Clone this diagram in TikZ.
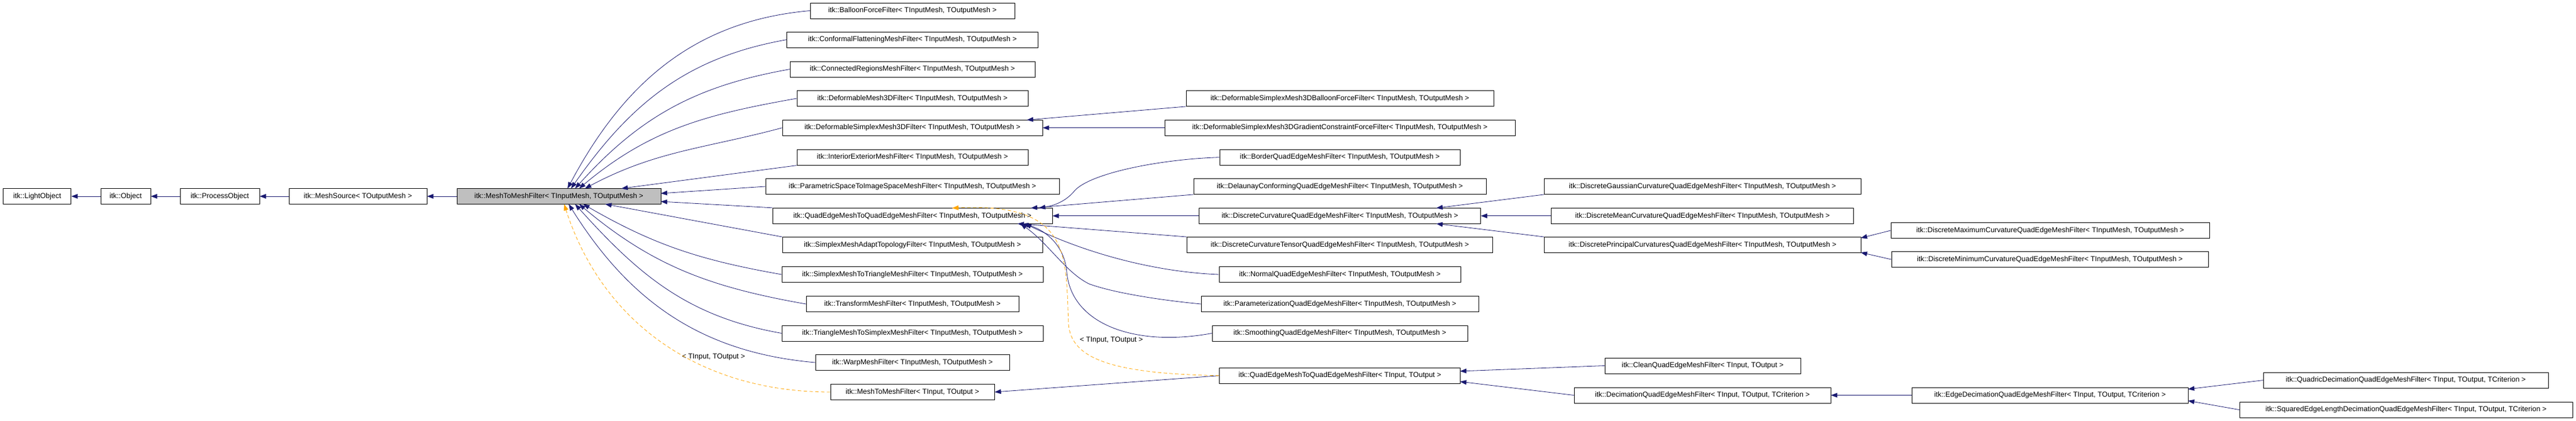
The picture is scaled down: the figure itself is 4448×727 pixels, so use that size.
\documentclass[tikz,border=0pt]{standalone}
\usepackage{fontspec}
\setmainfont{Liberation Sans}
\usetikzlibrary{arrows.meta}
\definecolor{eb}{HTML}{191970}
\definecolor{og}{HTML}{FFA500}
\tikzset{
 box/.style={draw=black,fill=white,rectangle,minimum height=27pt,inner sep=0pt,line width=0.9pt,font=\fontsize{12.5}{14}\selectfont},
 e/.style={draw=eb,line width=0.8pt,-{Triangle[length=11pt,width=8pt]},fill=none},
 d/.style={draw=og,line width=0.8pt,dash pattern=on 6pt off 4pt,-{Triangle[length=11pt,width=8pt]}},
 lbl/.style={font=\fontsize{12.5}{14}\selectfont,inner sep=1pt}
}
\begin{document}
\begin{tikzpicture}[x=1pt,y=1pt]
\useasboundingbox (0,0) rectangle (4448,-727);
% column 0
\node[box,minimum width=117pt] (lo) at (64.2,-339) {itk::LightObject};
\node[box,minimum width=86pt] (ob) at (217,-339) {itk::Object};
\node[box,minimum width=137pt] (po) at (379.5,-339) {itk::ProcessObject};
\node[box,minimum width=238pt] (ms) at (618,-339) {itk::MeshSource< TOutputMesh >};
\node[box,minimum width=352pt,fill=black!25] (main) at (965,-339) {itk::MeshToMeshFilter< TInputMesh, TOutputMesh >};
% column 2
\node[box,minimum width=353pt] (balloon) at (1575.5,-18.5) {itk::BalloonForceFilter< TInputMesh, TOutputMesh >};
\node[box,minimum width=434pt] (conf) at (1575.5,-68.6) {itk::ConformalFlatteningMeshFilter< TInputMesh, TOutputMesh >};
\node[box,minimum width=423pt] (conn) at (1575.5,-119.6) {itk::ConnectedRegionsMeshFilter< TInputMesh, TOutputMesh >};
\node[box,minimum width=399pt] (dm3d) at (1575.5,-170) {itk::DeformableMesh3DFilter< TInputMesh, TOutputMesh >};
\node[box,minimum width=449pt] (dsm) at (1575.5,-220.7) {itk::DeformableSimplexMesh3DFilter< TInputMesh, TOutputMesh >};
\node[box,minimum width=399pt] (ie) at (1575.5,-271.7) {itk::InteriorExteriorMeshFilter< TInputMesh, TOutputMesh >};
\node[box,minimum width=507pt] (param) at (1575.5,-322) {itk::ParametricSpaceToImageSpaceMeshFilter< TInputMesh, TOutputMesh >};
\node[box,minimum width=483pt] (qe) at (1575.5,-372.8) {itk::QuadEdgeMeshToQuadEdgeMeshFilter< TInputMesh, TOutputMesh >};
\node[box,minimum width=449pt] (sma) at (1575.5,-423) {itk::SimplexMeshAdaptTopologyFilter< TInputMesh, TOutputMesh >};
\node[box,minimum width=451pt] (smt) at (1575.5,-474) {itk::SimplexMeshToTriangleMeshFilter< TInputMesh, TOutputMesh >};
\node[box,minimum width=367pt] (tr) at (1575.5,-525) {itk::TransformMeshFilter< TInputMesh, TOutputMesh >};
\node[box,minimum width=451pt] (tts) at (1575.5,-575.5) {itk::TriangleMeshToSimplexMeshFilter< TInputMesh, TOutputMesh >};
\node[box,minimum width=335pt] (warp) at (1575.5,-626) {itk::WarpMeshFilter< TInputMesh, TOutputMesh >};
\node[box,minimum width=283pt] (m2m) at (1575.5,-677) {itk::MeshToMeshFilter< TInput, TOutput >};
% column 3
\node[box,minimum width=531pt] (dsmb) at (2313.5,-170) {itk::DeformableSimplexMesh3DBalloonForceFilter< TInputMesh, TOutputMesh >};
\node[box,minimum width=605pt] (dsmg) at (2313.5,-220.7) {itk::DeformableSimplexMesh3DGradientConstraintForceFilter< TInputMesh, TOutputMesh >};
\node[box,minimum width=415pt] (border) at (2313.5,-271.7) {itk::BorderQuadEdgeMeshFilter< TInputMesh, TOutputMesh >};
\node[box,minimum width=505pt] (delaunay) at (2313.5,-322) {itk::DelaunayConformingQuadEdgeMeshFilter< TInputMesh, TOutputMesh >};
\node[box,minimum width=486pt] (dc) at (2313.5,-372.8) {itk::DiscreteCurvatureQuadEdgeMeshFilter< TInputMesh, TOutputMesh >};
\node[box,minimum width=528pt] (dct) at (2313.5,-423) {itk::DiscreteCurvatureTensorQuadEdgeMeshFilter< TInputMesh, TOutputMesh >};
\node[box,minimum width=417pt] (normal) at (2313.5,-474) {itk::NormalQuadEdgeMeshFilter< TInputMesh, TOutputMesh >};
\node[box,minimum width=479pt] (paramq) at (2313.5,-525) {itk::ParameterizationQuadEdgeMeshFilter< TInputMesh, TOutputMesh >};
\node[box,minimum width=441pt] (smooth) at (2313.5,-575.5) {itk::SmoothingQuadEdgeMeshFilter< TInputMesh, TOutputMesh >};
\node[box,minimum width=416pt] (qet) at (2313.5,-648.7) {itk::QuadEdgeMeshToQuadEdgeMeshFilter< TInput, TOutput >};
% column 4
\node[box,minimum width=546.5pt] (gauss) at (2939.7,-322) {itk::DiscreteGaussianCurvatureQuadEdgeMeshFilter< TInputMesh, TOutputMesh >};
\node[box,minimum width=522pt] (mean) at (2939.7,-372.8) {itk::DiscreteMeanCurvatureQuadEdgeMeshFilter< TInputMesh, TOutputMesh >};
\node[box,minimum width=546.5pt] (princ) at (2939.7,-423) {itk::DiscretePrincipalCurvaturesQuadEdgeMeshFilter< TInputMesh, TOutputMesh >};
\node[box,minimum width=338pt] (clean) at (2940,-631.5) {itk::CleanQuadEdgeMeshFilter< TInput, TOutput >};
\node[box,minimum width=443pt] (dec) at (2939.5,-682.5) {itk::DecimationQuadEdgeMeshFilter< TInput, TOutput, TCriterion >};
% column 5
\node[box,minimum width=550pt] (max) at (3540,-398) {itk::DiscreteMaximumCurvatureQuadEdgeMeshFilter< TInputMesh, TOutputMesh >};
\node[box,minimum width=547pt] (min) at (3539.5,-448) {itk::DiscreteMinimumCurvatureQuadEdgeMeshFilter< TInputMesh, TOutputMesh >};
\node[box,minimum width=476.5pt] (edge) at (3539.7,-682.5) {itk::EdgeDecimationQuadEdgeMeshFilter< TInput, TOutput, TCriterion >};
% column 6
\node[box,minimum width=492pt] (quadric) at (4154,-656.6) {itk::QuadricDecimationQuadEdgeMeshFilter< TInput, TOutput, TCriterion >};
\node[box,minimum width=575pt] (squared) at (4154.5,-707.6) {itk::SquaredEdgeLengthDecimationQuadEdgeMeshFilter< TInput, TOutput, TCriterion >};
% labels
\node[lbl] (lab1) at (1232,-616) {< TInput, TOutput >};
\node[lbl] (lab2) at (1919,-587) {< TInput, TOutput >};
% chain
\draw[e] (ob) -- (lo);
\draw[e] (po) -- (ob);
\draw[e] (ms) -- (po);
\draw[e] (main) -- (ms);
% column 2 -> main
\draw[e] (balloon.west) to[out=185,in=62] (980,-325.5);
\draw[e] (conf.west) to[out=190,in=55] (986,-325.5);
\draw[e] (conn.west) to[out=190,in=48] (993,-325.5);
\draw[e] (dm3d.west) to[out=190,in=40] (1000,-325.5);
\draw[e] (dsm.west) to[out=195,in=28] (1010,-325.5);
\draw[e] (ie.south west) -- (1073,-325.5);
\draw[e] (param.west) -- (1141,-334);
\draw[e] (qe.north west) -- (1141,-348);
\draw[e] (sma.north west) -- (1045,-352.5);
\draw[e] (smt.west) to[out=170,in=-30] (1007,-352.5);
\draw[e] (tr.west) to[out=170,in=-40] (1000,-352.5);
\draw[e] (tts.west) to[out=170,in=-48] (993,-352.5);
\draw[e] (warp.west) to[out=175,in=-58] (982,-352.5);
\draw[d] (m2m.west) to[out=180,in=-72] (974,-352.5);
% column 3 -> column 2
\draw[e] (dsmb.south west) -- (1773,-207.2);
\draw[e] (dsmg.west) -- (dsm.east);
\draw[e] (border.west) .. controls (2000,-275) and (1880,-300) .. (1855,-330) .. controls (1840,-348) and (1820,-355) .. (1794,-359.3);
\draw[e] (delaunay.south west) -- (1780,-359.3);
\draw[e] (dc.west) -- (qe.east);
\draw[e] (dct.north west) -- (1757,-386.3);
\draw[e] (normal.west) .. controls (2000,-470) and (1880,-440) .. (1770,-386.3);
\draw[e] (paramq.west) .. controls (2000,-518) and (1920,-505) .. (1880,-490) .. controls (1840,-470) and (1810,-420) .. (1762,-386.3);
\draw[e] (smooth.west) .. controls (1960,-600) and (1850,-560) .. (1842,-470) .. controls (1838,-420) and (1800,-395) .. (1765,-386.3);
\draw[e] (qet.west) -- (m2m.east);
\draw[d] (qet.west) .. controls (1920,-645) and (1850,-620) .. (1845,-560) .. controls (1840,-440) and (1850,-350) .. (1644,-359.3);
% column 4 -> column 3
\draw[e] (gauss.south west) -- (2480,-359.3);
\draw[e] (mean.west) -- (dc.east);
\draw[e] (princ.north west) -- (2480,-386.3);
\draw[e] (clean.west) -- (2521,-641);
\draw[e] (dec.west) -- (2521,-659);
% column 5 -> 4
\draw[e] (max.west) -- (3213,-411);
\draw[e] (min.west) -- (3213,-436);
\draw[e] (edge.west) -- (dec.east);
% column 6 -> 5
\draw[e] (quadric.west) -- (3778,-672);
\draw[e] (squared.west) -- (3778,-692);
\end{tikzpicture}
\end{document}
